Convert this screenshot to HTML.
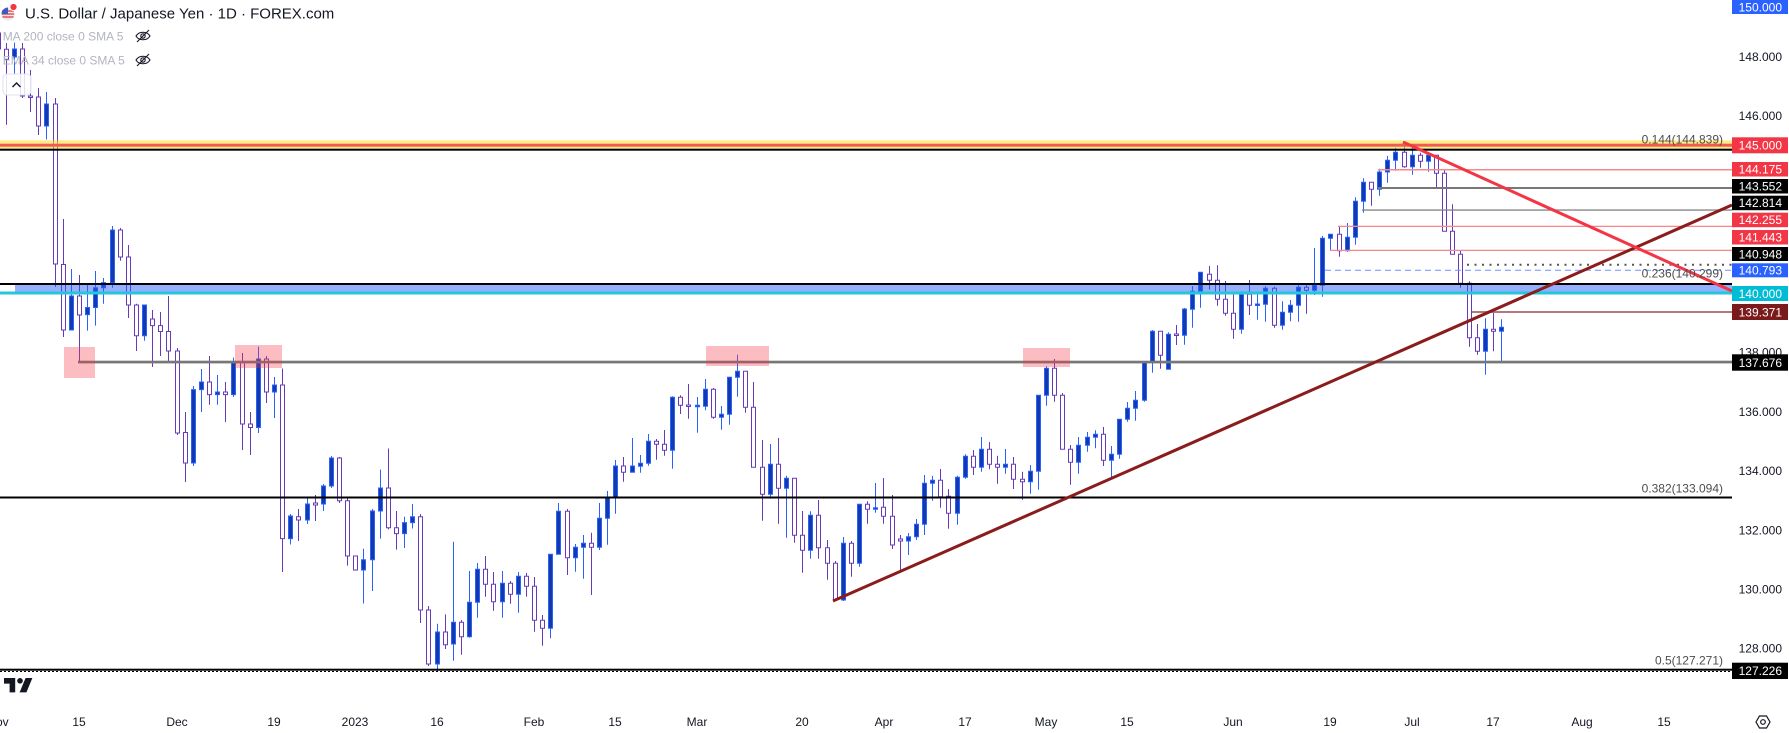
<!DOCTYPE html>
<html><head><meta charset="utf-8"><style>
html,body{margin:0;padding:0;background:#fff;width:1789px;height:733px;overflow:hidden}
svg{display:block}
text{font-family:"Liberation Sans",Arial,sans-serif}
</style></head><body>
<svg width="1789" height="733" viewBox="0 0 1789 733" xmlns="http://www.w3.org/2000/svg">
<defs><clipPath id="c"><rect x="0" y="0" width="1732" height="706"/></clipPath></defs>
<rect width="1789" height="733" fill="#fff"/>
<g clip-path="url(#c)">
<g transform="translate(0.5,0)">
<path fill="none" stroke="#673ab7" stroke-width="1" d="M-2 28V52M6 43V124.7M22 43V98M30 70V112M38 88V135M55 98V287M63 219V337M79 275V363M120 228V260.7M128 245V318M136 303.7V351M152 310V367M160 312V356M168 296V362.6M177 348V435M185 412V482M209 356V404.7M225 382V422M242 353V450M250 412V455M266 356V403M282 368.5V572M298 509V541M315 495V521M339 457V503M347 498V565.6M355 556V570.6M388 448.5V529.4M396 511V549.6M420 514V623M428 606V666M445 614.4V649M461 620V654.7M485 556V596.7M493 572V610.7M510 581V603.7M526 573V596.7M534 577V631.7M542 615V645.7M567 509V575M591 532.7V595M623 457V481.7M656 439V459.7M664 430V455.7M680 395.3V414M688 384V418.7M713 388V418.7M745 371.3V412.7M753 382V467.3M762 440V520.7M778 438V523.7M794 478.3V542.7M802 511V572.7M818 500V558.7M827 540V579.7M835 561V601M851 541V576.7M867 501.3V523.7M883 478V523.7M892 495V549M900 535V571M940 469V507.7M948 489V528.7M973 450V475M989 442V469.3M997 455.7V483.7M1013 457V489M1022 471.7V499.7M1054 359V401.7M1062 393V449.3M1070 445V484.7M1103 427V466M1160 331.3V368.7M1176 325V345M1209 266V289.7M1217 265.3V305.7M1225 281V315.7M1233 294.3V338.7M1249 280V315M1274 286.7V327.7M1306 284.3V313.7M1339 226V256.7M1371 182.3V205.7M1404 142V167.7M1420 152.7V167.7M1436 155.3V187.7M1444 169.3V231.3M1452 204.3V254.3M1460 250.3V287.7M1469 281.3V346.7M1477 324V354.7M1493 310.7V351.3"/>
<path fill="none" stroke="#2962ff" stroke-width="1" d="M14 42.6V74M46 92V139.5M71 269V330M87 284V330.6M95 271V325.6M103 278V303.7M112 226V287.7M144 305V340.7M193 386V466M201 369V412M217 375V404.7M233 357.6V397M258 346.6V433M274 377V418M290 514V544.5M307 496.5V524M323 484V511M331 456V488M363 548.7V603.5M372 509V591M380 469.6V538.6M404 516.7V548M412 504V528.5M437 623.7V671M453 541.7V660.7M469 571V637.7M477 563V617.7M502 571V617.7M518 572V612.7M550 554.3V638.3M558 503V554.3M575 544V571.7M583 535V578.7M599 503V550M607 491V544.7M615 460V513.7M632 438V472.3M640 455V472.7M648 434V465.7M672 396.3V468.7M697 397V432.7M705 379V410.3M721 406V429.7M729 376.7V424.7M737 354.7V396.7M770 444V498.7M786 475.7V537.7M810 511.3V558.7M843 537V601M859 504.3V566.7M875 483V512.7M908 533V555M916 519V540M924 475V535M932 476V500.7M957 475.7V524.7M965 454.3V478.7M981 437V471.7M1005 449V473.7M1030 465V493.7M1038 395.3V489.7M1046 366.3V405.7M1078 437V473.7M1087 432V451.7M1095 430.3V448.3M1111 446V477.3M1119 419.3V458.7M1127 402V421.7M1135 391V420.7M1144 362.3V401.7M1152 330V372.7M1168 332.3V369.3M1184 308V344.7M1192 286V327.7M1200 272.3V307.7M1241 291.3V333.7M1257 293V319.7M1265 286.3V321.7M1282 301.3V329.7M1290 300V321.3M1298 284.3V321.7M1314 248V295M1322 236V296.7M1330 234.3V250M1347 223V251.7M1355 197.3V244.7M1363 178.3V212.7M1379 168.7V195.7M1387 156V182.7M1395 147.7V170.7M1412 147.3V174.7M1428 152V171.7M1485 318.3V374.7M1501 319.3V361"/>
<path fill="#fff" stroke="#673ab7" stroke-width="1" d="M-4 33h4V49h-4ZM4 49.3h4V59.3h-4ZM20 49h4V96h-4ZM28 96h4V97.5h-4ZM36 97h4V126h-4ZM53 104h4V264h-4ZM61 264.5h4V330h-4ZM77 296h4V315h-4ZM118 230h4V257h-4ZM126 257h4V305h-4ZM134 305h4V335.7h-4ZM150 319h4V325.6h-4ZM158 325.6h4V331.5h-4ZM166 331.5h4V351h-4ZM175 351h4V433h-4ZM183 432.5h4V463h-4ZM207 382h4V394.6h-4ZM223 392h4V394.6h-4ZM240 362.6h4V424h-4ZM248 424h4V427.5h-4ZM264 359h4V392h-4ZM280 385h4V538.6h-4ZM296 516.7h4V520h-4ZM313 503h4V505h-4ZM337 458h4V500.7h-4ZM345 500.7h4V556h-4ZM353 556h4V570h-4ZM386 488h4V527.7h-4ZM394 527.7h4V533.6h-4ZM418 516.7h4V610h-4ZM426 610h4V664h-4ZM443 632h4V644.7h-4ZM459 622.3h4V636.7h-4ZM483 569.3h4V584.3h-4ZM491 584.3h4V601.7h-4ZM508 583.3h4V594.3h-4ZM524 576.3h4V586.3h-4ZM532 586.3h4V620.3h-4ZM540 620.3h4V628.3h-4ZM565 511.3h4V557.7h-4ZM589 543.3h4V547.3h-4ZM621 466h4V472.3h-4ZM654 441.3h4V444.3h-4ZM662 444.3h4V450.3h-4ZM678 397.3h4V405.3h-4ZM686 405h4V406.5h-4ZM711 389.3h4V417.3h-4ZM743 371.3h4V407.3h-4ZM751 407.3h4V467.3h-4ZM760 467.3h4V494.3h-4ZM776 464.3h4V488.3h-4ZM792 478.3h4V535.3h-4ZM800 535.3h4V550.3h-4ZM816 515.3h4V547.7h-4ZM825 547.7h4V563.3h-4ZM833 563.3h4V600h-4ZM849 543.3h4V563.3h-4ZM865 504.3h4V509.3h-4ZM881 507.3h4V516.3h-4ZM890 516.3h4V545h-4ZM898 539h4V541h-4ZM938 480.3h4V496.7h-4ZM946 496.3h4V513.3h-4ZM971 456.3h4V467.3h-4ZM987 449.3h4V464.3h-4ZM995 464.3h4V467.3h-4ZM1011 464.3h4V479.3h-4ZM1020 479.3h4V481.7h-4ZM1052 368.3h4V395.3h-4ZM1060 395.3h4V449.3h-4ZM1068 449.3h4V462.3h-4ZM1101 434.3h4V460.3h-4ZM1158 331.3h4V355.3h-4ZM1174 334h4V335.5h-4ZM1207 274.3h4V280.3h-4ZM1215 280.3h4V299.3h-4ZM1223 299.3h4V313.3h-4ZM1231 313.3h4V329.3h-4ZM1247 294.3h4V305.3h-4ZM1272 288.3h4V325.3h-4ZM1304 287.3h4V290.3h-4ZM1337 234.3h4V250.7h-4ZM1369 182.3h4V189.3h-4ZM1402 152.3h4V166.7h-4ZM1418 155.3h4V161.3h-4ZM1434 155.3h4V173.3h-4ZM1442 173.3h4V231.3h-4ZM1450 231.3h4V254.3h-4ZM1458 254.3h4V283.3h-4ZM1467 283.3h4V337.7h-4ZM1475 337.7h4V351.3h-4ZM1491 329.3h4V331.3h-4Z"/>
<path fill="#1239ae" stroke="#2962ff" stroke-width="1" d="M12 49h4V57h-4ZM44 104h4V126h-4ZM69 296h4V330h-4ZM85 307.5h4V314.6h-4ZM93 287.7h4V307.5h-4ZM101 282.6h4V287.7h-4ZM110 230h4V282.6h-4ZM142 305h4V335.7h-4ZM191 389.6h4V463h-4ZM199 382h4V389.6h-4ZM215 392h4V394.6h-4ZM231 362.6h4V394.6h-4ZM256 359h4V427.5h-4ZM272 385h4V392h-4ZM288 516h4V538.6h-4ZM305 504h4V520h-4ZM321 486h4V504h-4ZM329 458h4V486h-4ZM361 559.7h4V570h-4ZM370 511h4V559.7h-4ZM378 488h4V511h-4ZM402 522.6h4V533.6h-4ZM410 516.7h4V522.6h-4ZM435 632h4V664h-4ZM451 622.3h4V644h-4ZM467 602.3h4V636.7h-4ZM475 569.3h4V602.3h-4ZM500 583.3h4V601.7h-4ZM516 576.3h4V594.3h-4ZM548 554.3h4V628.3h-4ZM556 511.3h4V554.3h-4ZM573 547.3h4V557.7h-4ZM581 543.3h4V547.3h-4ZM597 518.3h4V547.3h-4ZM605 497.7h4V518.3h-4ZM613 466h4V497.7h-4ZM630 466h4V472.3h-4ZM638 463.3h4V466.3h-4ZM646 441.3h4V463.3h-4ZM670 397.3h4V450.3h-4ZM695 405.3h4V406.8h-4ZM703 389.3h4V406.3h-4ZM719 414.3h4V417.3h-4ZM727 377.3h4V414.3h-4ZM735 371.3h4V377.3h-4ZM768 464.3h4V494.3h-4ZM784 478.3h4V488.3h-4ZM808 515.3h4V550.3h-4ZM841 543.3h4V600h-4ZM857 504.3h4V563.3h-4ZM873 507.7h4V509.3h-4ZM906 536.7h4V541h-4ZM914 524.3h4V536.7h-4ZM922 483.3h4V524.3h-4ZM930 480.3h4V483.3h-4ZM955 477.3h4V513.3h-4ZM963 456.3h4V477.3h-4ZM979 449.3h4V467.3h-4ZM1003 464.3h4V467.3h-4ZM1028 471.3h4V481.7h-4ZM1036 395.3h4V471.3h-4ZM1044 368.3h4V395.3h-4ZM1076 445.3h4V462.3h-4ZM1085 437.3h4V445.3h-4ZM1093 434.3h4V437.3h-4ZM1109 454.3h4V460.3h-4ZM1117 419.3h4V454.3h-4ZM1125 408.3h4V419.3h-4ZM1133 400.3h4V408.3h-4ZM1142 362.3h4V400.3h-4ZM1150 331.3h4V362.3h-4ZM1166 334.3h4V369.3h-4ZM1182 309h4V335.3h-4ZM1190 291.3h4V309.3h-4ZM1198 272.3h4V291.3h-4ZM1239 294.3h4V329.3h-4ZM1255 304h4V305.5h-4ZM1263 288.3h4V304.3h-4ZM1280 312.3h4V325.3h-4ZM1288 305.3h4V312.3h-4ZM1296 287.3h4V305.3h-4ZM1312 285.3h4V290.3h-4ZM1320 238.3h4V285.3h-4ZM1328 234.3h4V238.3h-4ZM1345 237.3h4V250.7h-4ZM1353 201.3h4V237.3h-4ZM1361 182.3h4V201.3h-4ZM1377 172h4V189.3h-4ZM1385 160.3h4V172h-4ZM1393 152.3h4V160.3h-4ZM1410 155.3h4V166.7h-4ZM1426 155.3h4V161.3h-4ZM1483 329.3h4V351.3h-4ZM1499 327.3h4V331.3h-4Z"/>
</g>
<!-- horizontal drawings -->
<rect x="0" y="140.3" width="1732" height="8.4" fill="rgba(250,220,40,0.55)"/>
<rect x="0" y="143.7" width="1732" height="3" fill="#f05a50"/>
<rect x="0" y="148.7" width="1732" height="2" fill="#000"/>
<rect x="1378" y="169" width="354" height="1.5" fill="#f7898d"/>
<rect x="1378" y="187" width="354" height="2" fill="#777"/>
<rect x="1362" y="209.4" width="370" height="1.3" fill="#808080"/>
<rect x="1338" y="225.7" width="394" height="1.3" fill="#f7898d"/>
<rect x="1330" y="249.7" width="402" height="1.3" fill="#f7898d"/>
<line x1="1467" y1="264.7" x2="1732" y2="264.7" stroke="#555" stroke-width="2" stroke-dasharray="2 5.5"/>
<line x1="1325" y1="270.3" x2="1732" y2="270.3" stroke="#6c94ff" stroke-width="1" stroke-dasharray="6 4"/>
<rect x="0" y="283" width="1732" height="2" fill="#000"/>
<rect x="15" y="285" width="1717" height="6.5" fill="rgba(41,98,255,0.5)"/>
<rect x="0" y="291.5" width="1732" height="3" fill="#26c6da"/>
<rect x="1472" y="311" width="260" height="2" fill="#b5777a"/>
<rect x="78" y="360.7" width="1654" height="2.7" fill="#777"/>
<rect x="0" y="496.5" width="1732" height="2" fill="#000"/>
<rect x="0" y="668.7" width="1732" height="2" fill="#000"/>
<line x1="0" y1="671.5" x2="1732" y2="671.5" stroke="#000" stroke-width="1" stroke-dasharray="2 2"/>
<!-- trendlines -->
<line x1="833" y1="601" x2="1732" y2="205" stroke="#8b1c1c" stroke-width="3"/>
<line x1="1403" y1="142" x2="1732" y2="291" stroke="#f23645" stroke-width="3"/>
<!-- pink boxes -->
<rect x="64" y="347" width="31" height="31" fill="rgba(242,54,69,0.33)"/>
<rect x="235" y="345" width="47" height="23" fill="rgba(242,54,69,0.33)"/>
<rect x="706" y="346" width="63" height="20" fill="rgba(242,54,69,0.33)"/>
<rect x="1023" y="348" width="47" height="19" fill="rgba(242,54,69,0.33)"/>
<!-- fib labels -->
<g font-size="12" fill="#4d4d4d" text-anchor="end">
<text x="1723" y="143.3">0.144(144.839)</text>
<text x="1723" y="277.6">0.236(140.299)</text>
<text x="1723" y="492.3">0.382(133.094)</text>
<text x="1723" y="664.3">0.5(127.271)</text>
</g>
</g>
<!-- header -->
<circle cx="8" cy="14" r="6.5" fill="#e8e8f0"/>
<path d="M2 11h12M1.8 14h12.4M2.4 17h11.2" stroke="#e03a3a" stroke-width="1.3"/>
<path d="M1.5 14A6.5 6.5 0 0 1 8 7.5V14Z" fill="#3b5bbf"/>
<circle cx="13.5" cy="7" r="3.6" fill="#f23645" stroke="#fff" stroke-width="1"/>
<text x="25" y="18.3" font-size="15" fill="#131722">U.S. Dollar / Japanese Yen · 1D · FOREX.com</text>
<text x="2.7" y="40.3" font-size="12" fill="#b2b5be">MA 200 close 0 SMA 5</text>
<text x="2.7" y="64.3" font-size="12" fill="#b2b5be">EMA 34 close 0 SMA 5</text>
<g fill="none" stroke="#131722" stroke-width="1.1">
<path d="M136 36c3-5 11-5 14 0c-3 5-11 5-14 0Z"/><circle cx="143" cy="36" r="2.2"/><path d="M137 42L149 30"/>
<path d="M136 60c3-5 11-5 14 0c-3 5-11 5-14 0Z"/><circle cx="143" cy="60" r="2.2"/><path d="M137 66L149 54"/>
</g>
<rect x="3" y="74" width="28" height="21" rx="4" fill="rgba(255,255,255,0.85)" stroke="#e0e3eb"/>
<polyline points="12.5,87 16.5,83 20.5,87" fill="none" stroke="#131722" stroke-width="1.4"/>
<!-- logo -->
<g transform="translate(4,678) scale(0.8)" fill="#131722">
<path d="M14 18H7V7H0V0h14z"/><circle cx="20" cy="3.5" r="3.5"/><path d="M28 18h-8.5L27 0h8.5z"/>
</g>
<!-- price axis -->
<g font-size="12" text-anchor="end">
<g fill="#131722">
<text x="1782" y="61">148.000</text>
<text x="1782" y="120">146.000</text>
<text x="1782" y="356.5">138.000</text>
<text x="1782" y="416">136.000</text>
<text x="1782" y="474.8">134.000</text>
<text x="1782" y="534.3">132.000</text>
<text x="1782" y="593.3">130.000</text>
<text x="1782" y="652.3">128.000</text>
</g>
<rect x="1732" y="0" width="56" height="14" fill="#2962ff"/>
<rect x="1732" y="137.3" width="56" height="16" fill="#f23645"/>
<rect x="1732" y="162" width="56" height="14.5" fill="#f23645"/>
<rect x="1732" y="179" width="56" height="14.5" fill="#000"/>
<rect x="1732" y="195.7" width="56" height="14.5" fill="#000"/>
<rect x="1732" y="212.7" width="56" height="14.5" fill="#f23645"/>
<rect x="1732" y="230" width="56" height="14.5" fill="#f23645"/>
<rect x="1732" y="247" width="56" height="14" fill="#000"/>
<rect x="1732" y="263.3" width="56" height="14" fill="#2962ff"/>
<rect x="1732" y="286" width="56" height="15" fill="#00bcd4"/>
<rect x="1732" y="304" width="56" height="16" fill="#7b1a1a"/>
<rect x="1732" y="354.3" width="56" height="16.4" fill="#000"/>
<rect x="1732" y="662.7" width="56" height="16.3" fill="#000"/>
<g fill="#fff">
<text x="1782" y="11.3">150.000</text>
<text x="1782" y="149.6">145.000</text>
<text x="1782" y="173.5">144.175</text>
<text x="1782" y="190.5">143.552</text>
<text x="1782" y="207.2">142.814</text>
<text x="1782" y="224.2">142.255</text>
<text x="1782" y="241.5">141.443</text>
<text x="1782" y="258.3">140.948</text>
<text x="1782" y="274.6">140.793</text>
<text x="1782" y="297.8">140.000</text>
<text x="1782" y="316.3">139.371</text>
<text x="1782" y="366.8">137.676</text>
<text x="1782" y="675.2">127.226</text>
</g>
</g>
<!-- time axis -->
<g font-size="12" fill="#131722" text-anchor="middle">
<text x="-2" y="726">Nov</text>
<text x="79" y="726">15</text>
<text x="177" y="726">Dec</text>
<text x="274" y="726">19</text>
<text x="355" y="726">2023</text>
<text x="437" y="726">16</text>
<text x="534" y="726">Feb</text>
<text x="615" y="726">15</text>
<text x="697" y="726">Mar</text>
<text x="802" y="726">20</text>
<text x="884" y="726">Apr</text>
<text x="965" y="726">17</text>
<text x="1046" y="726">May</text>
<text x="1127" y="726">15</text>
<text x="1233" y="726">Jun</text>
<text x="1330" y="726">19</text>
<text x="1412" y="726">Jul</text>
<text x="1493" y="726">17</text>
<text x="1582" y="726">Aug</text>
<text x="1664" y="726">15</text>
</g>
<g fill="none" stroke="#131722" stroke-width="1.2">
<path d="M1756 722l3.5-6h7l3.5 6-3.5 6h-7z"/><circle cx="1763" cy="722" r="2.3"/>
</g>
</svg>
</body></html>
